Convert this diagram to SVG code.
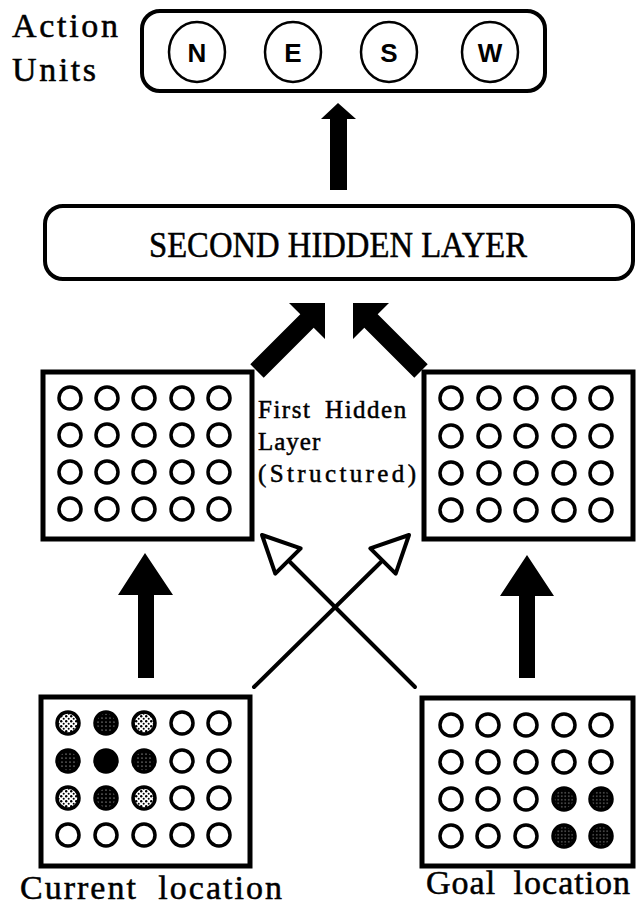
<svg xmlns="http://www.w3.org/2000/svg" width="638" height="907" viewBox="0 0 638 907">
<style>
.bx{fill:#fff;stroke:#000;stroke-width:5}
.rb{fill:#fff;stroke:#000;stroke-width:4}
.u{fill:#fff;stroke:#000;stroke-width:3.5}
.lt{fill:url(#light);stroke:#000;stroke-width:3.5}
.dk{fill:url(#dark);stroke:#000;stroke-width:3.5}
.gd{fill:url(#goal);stroke:#000;stroke-width:3.5}
.bk{fill:#000;stroke:#000;stroke-width:3.5}
.act{fill:#fff;stroke:#000;stroke-width:2.5}
.al{font-family:"Liberation Sans",Arial,sans-serif;font-weight:bold;font-size:26px;text-anchor:middle}
.serif{font-family:"Liberation Serif","Times New Roman",serif;fill:#000;stroke:#000;stroke-width:0.5}
.thin{stroke:#000;stroke-width:4;fill:none;stroke-linecap:round}
.ohead{fill:#fff;stroke:#000;stroke-width:4;stroke-linejoin:round}
.solid{fill:#000}
</style>
<defs>
<pattern id="light" width="5" height="5" patternUnits="userSpaceOnUse">
<rect width="5" height="5" fill="#fff"/>
<circle cx="1.2" cy="1.2" r="1.2" fill="#000"/>
<circle cx="3.7" cy="3.7" r="1" fill="#000"/>
</pattern>
<pattern id="dark" width="4" height="4" patternUnits="userSpaceOnUse">
<rect width="4" height="4" fill="#000"/>
<circle cx="2" cy="2" r="0.6" fill="#fff"/>
</pattern>
<pattern id="goal" width="3.5" height="3.5" patternUnits="userSpaceOnUse">
<rect width="3.5" height="3.5" fill="#000"/>
<rect x="1.3" y="1.3" width="0.9" height="0.9" fill="#fff"/>
</pattern>
</defs>
<rect width="638" height="907" fill="#fff"/>

<g id="connectors">
<polygon class="solid" points="338,103 356,119 347,119 347,190 330,190 330,119 321,119"/>
<polygon class="solid" points="325,303 325,339 313.7,327.7 263.7,377.7 250.3,364.3 300.3,314.3 289,303"/>
<polygon class="solid" points="353,303 353,339 364.3,327.7 414.3,377.7 427.7,364.3 377.7,314.3 389,303"/>
<polygon class="solid" points="145,553 173,595 154,595 154,678 138,678 138,595 118,595"/>
<polygon class="solid" points="527,555 554,596 535,596 535,678 519,678 519,596 500,596"/>
<line class="thin" x1="415" y1="687" x2="290" y2="562"/>
<line class="thin" x1="254" y1="687" x2="381" y2="562"/>
<polygon class="ohead" points="262,535 300.7,548.3 275.3,573.7"/>
<polygon class="ohead" points="409,535 395.7,573.7 370.3,548.3"/>
</g>

<g id="action-units">
<rect class="rb" x="142" y="11" width="403" height="80" rx="18"/>
<ellipse class="act" cx="197" cy="52" rx="28" ry="30"/>
<ellipse class="act" cx="293" cy="52" rx="28" ry="30"/>
<ellipse class="act" cx="389" cy="52" rx="28" ry="30"/>
<ellipse class="act" cx="490" cy="52" rx="28" ry="30"/>
<text class="al" x="197" y="62">N</text>
<text class="al" x="293" y="62">E</text>
<text class="al" x="389" y="62">S</text>
<text class="al" x="490" y="62">W</text>
</g>
<g id="action-units-label">
<text class="serif" x="12" y="37" font-size="34" textLength="106" lengthAdjust="spacing">Action</text>
<text class="serif" x="12" y="81" font-size="34" textLength="84" lengthAdjust="spacing">Units</text>
</g>

<g id="second-hidden-layer">
<rect class="rb" x="45" y="206" width="588" height="73" rx="18"/>
<text class="serif" x="338" y="257" font-size="36" text-anchor="middle" textLength="378" lengthAdjust="spacingAndGlyphs">SECOND HIDDEN LAYER</text>
</g>

<g id="first-hidden-left">
<rect class="bx" x="43" y="372" width="209" height="167"/>
<circle class="u" cx="70" cy="398" r="11"/><circle class="u" cx="107" cy="398" r="11"/><circle class="u" cx="144" cy="398" r="11"/><circle class="u" cx="182" cy="398" r="11"/><circle class="u" cx="219" cy="398" r="11"/>
<circle class="u" cx="70" cy="435" r="11"/><circle class="u" cx="107" cy="435" r="11"/><circle class="u" cx="144" cy="435" r="11"/><circle class="u" cx="182" cy="435" r="11"/><circle class="u" cx="219" cy="435" r="11"/>
<circle class="u" cx="70" cy="472" r="11"/><circle class="u" cx="107" cy="472" r="11"/><circle class="u" cx="144" cy="472" r="11"/><circle class="u" cx="182" cy="472" r="11"/><circle class="u" cx="219" cy="472" r="11"/>
<circle class="u" cx="70" cy="509" r="11"/><circle class="u" cx="107" cy="509" r="11"/><circle class="u" cx="144" cy="509" r="11"/><circle class="u" cx="182" cy="509" r="11"/><circle class="u" cx="219" cy="509" r="11"/>
</g>

<g id="first-hidden-right">
<rect class="bx" x="424" y="372" width="209" height="167"/>
<circle class="u" cx="451" cy="398" r="11"/><circle class="u" cx="489" cy="398" r="11"/><circle class="u" cx="526" cy="398" r="11"/><circle class="u" cx="564" cy="398" r="11"/><circle class="u" cx="601" cy="398" r="11"/>
<circle class="u" cx="451" cy="436" r="11"/><circle class="u" cx="489" cy="436" r="11"/><circle class="u" cx="526" cy="436" r="11"/><circle class="u" cx="564" cy="436" r="11"/><circle class="u" cx="601" cy="436" r="11"/>
<circle class="u" cx="451" cy="473" r="11"/><circle class="u" cx="489" cy="473" r="11"/><circle class="u" cx="526" cy="473" r="11"/><circle class="u" cx="564" cy="473" r="11"/><circle class="u" cx="601" cy="473" r="11"/>
<circle class="u" cx="451" cy="510" r="11"/><circle class="u" cx="489" cy="510" r="11"/><circle class="u" cx="526" cy="510" r="11"/><circle class="u" cx="564" cy="510" r="11"/><circle class="u" cx="601" cy="510" r="11"/>
</g>

<g id="first-hidden-label">
<text class="serif" x="258" y="418" font-size="25" letter-spacing="1.5" word-spacing="6">First Hidden</text>
<text class="serif" x="258" y="450" font-size="25" letter-spacing="1">Layer</text>
<text class="serif" x="258" y="482" font-size="25" textLength="158" lengthAdjust="spacing">(Structured)</text>
</g>

<g id="current-location">
<rect class="bx" x="41" y="697" width="209" height="169"/>
<circle class="lt" cx="68" cy="723" r="11"/><circle class="dk" cx="106" cy="723" r="11"/><circle class="lt" cx="144" cy="723" r="11"/><circle class="u" cx="182" cy="723" r="11"/><circle class="u" cx="219" cy="723" r="11"/>
<circle class="dk" cx="68" cy="761" r="11"/><circle class="bk" cx="106" cy="761" r="11"/><circle class="dk" cx="144" cy="761" r="11"/><circle class="u" cx="182" cy="761" r="11"/><circle class="u" cx="219" cy="761" r="11"/>
<circle class="lt" cx="68" cy="798" r="11"/><circle class="dk" cx="106" cy="798" r="11"/><circle class="lt" cx="144" cy="798" r="11"/><circle class="u" cx="182" cy="798" r="11"/><circle class="u" cx="219" cy="798" r="11"/>
<circle class="u" cx="68" cy="835" r="11"/><circle class="u" cx="106" cy="835" r="11"/><circle class="u" cx="144" cy="835" r="11"/><circle class="u" cx="182" cy="835" r="11"/><circle class="u" cx="219" cy="835" r="11"/>
<text class="serif" x="20" y="899" font-size="34" letter-spacing="2" word-spacing="10">Current location</text>
</g>

<g id="goal-location">
<rect class="bx" x="422" y="698" width="211" height="168"/>
<circle class="u" cx="451" cy="725" r="11"/><circle class="u" cx="488" cy="725" r="11"/><circle class="u" cx="526" cy="725" r="11"/><circle class="u" cx="564" cy="725" r="11"/><circle class="u" cx="601" cy="725" r="11"/>
<circle class="u" cx="451" cy="762" r="11"/><circle class="u" cx="488" cy="762" r="11"/><circle class="u" cx="526" cy="762" r="11"/><circle class="u" cx="564" cy="762" r="11"/><circle class="u" cx="601" cy="762" r="11"/>
<circle class="u" cx="451" cy="799" r="11"/><circle class="u" cx="488" cy="799" r="11"/><circle class="u" cx="526" cy="799" r="11"/><circle class="gd" cx="564" cy="799" r="11"/><circle class="gd" cx="601" cy="799" r="11"/>
<circle class="u" cx="451" cy="836" r="11"/><circle class="u" cx="488" cy="836" r="11"/><circle class="u" cx="526" cy="836" r="11"/><circle class="gd" cx="564" cy="836" r="11"/><circle class="gd" cx="601" cy="836" r="11"/>
<text class="serif" x="426" y="894" font-size="34" letter-spacing="1" word-spacing="8">Goal location</text>
</g>
</svg>
